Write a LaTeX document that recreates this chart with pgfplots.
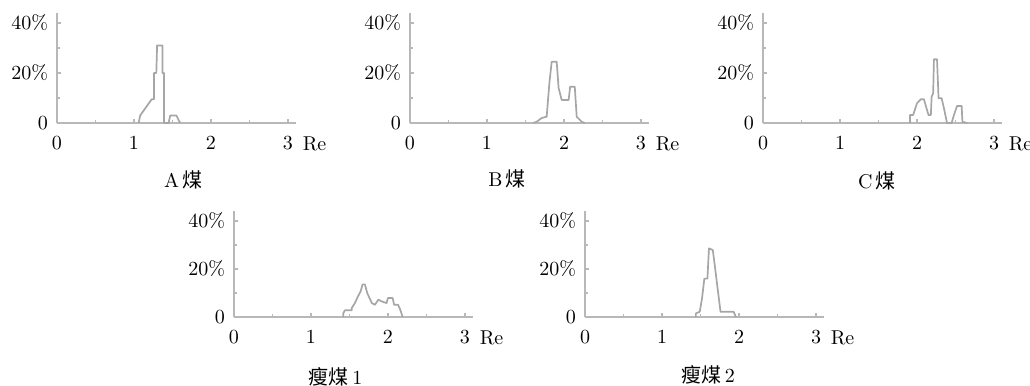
\documentclass[border=0pt]{standalone}
\usepackage{fontspec}
\usepackage{pgfplots}
\pgfplotsset{compat=1.18}
\newfontfamily\cjk{Noto Sans CJK SC}
\definecolor{axisgray}{HTML}{B8B8B8}
\definecolor{curvegray}{HTML}{A6A6A6}
\pgfplotsset{panel/.style={
  x=38.5pt, y=1.25pt, xmin=0, xmax=3.1, ymin=0, ymax=44,
  axis lines=left, axis line style={-, draw=axisgray, line width=1pt},
  xtick={0,1,2,3}, ytick={0,20,40}, yticklabels={0,20\%,40\%},
  minor ytick={10,30}, minor xtick={0.5,1.5,2.5},
  tick style={draw=axisgray, line width=0.6pt},
  major tick length=2pt, minor tick length=1.5pt, tick align=inside,
  xticklabel style={yshift=-3.5pt}, yticklabel style={xshift=-1pt},
  clip=false, anchor=south west,
},
curve/.style={draw=curvegray, line width=0.85pt, mark=none, line join=round}}
\begin{document}
\begin{tikzpicture}
\useasboundingbox (0,0) rectangle (515pt,-193pt);
% A
\begin{axis}[panel, at={(28.5pt,-61.5pt)}]
\addplot[curve] coordinates {(1.06,0)(1.08,3)(1.23,9.5)(1.26,9.5)(1.26,20)(1.29,20)(1.30,31)(1.37,31)(1.37,20)(1.39,20)(1.39,0)(1.45,0)(1.47,3)(1.55,3)(1.60,0)};
\node[anchor=north west] at (axis cs:3.1,0) [yshift=-3.5pt] {Re};
\node at (axis cs:1.64,0) [yshift=-28.5pt] {A\,{\cjk 煤}};
\end{axis}
% B
\begin{axis}[panel, at={(205pt,-61.5pt)}]
\addplot[curve] coordinates {(1.6,0)(1.645,0.5)(1.71,2)(1.775,2.5)(1.81,15.9)(1.84,24.5)(1.905,24.5)(1.93,14)(1.97,9.2)(2.06,9.2)(2.08,14.5)(2.14,14.5)(2.165,2.5)(2.23,0.5)(2.27,0)};
\node[anchor=north west] at (axis cs:3.1,0) [yshift=-3.5pt] {Re};
\node at (axis cs:1.26,0) [yshift=-28pt] {B\,{\cjk 煤}};
\end{axis}
% C
\begin{axis}[panel, at={(381.5pt,-61.5pt)}]
\addplot[curve] coordinates {(1.91,0)(1.91,3.2)(1.95,3.2)(2.0,7.9)(2.05,9.5)(2.09,9.5)(2.13,5.2)(2.15,3.2)(2.18,3.2)(2.19,10.5)(2.21,11.9)(2.22,25.5)(2.26,25.5)(2.28,9.9)(2.32,9.9)(2.35,5.9)(2.39,0)(2.45,0)(2.48,3.2)(2.52,6.8)(2.58,6.8)(2.59,0.5)(2.65,0)};
\node[anchor=north west] at (axis cs:3.1,0) [yshift=-3.5pt] {Re};
\node at (axis cs:1.48,0) [yshift=-29pt] {C\,{\cjk 煤}};
\end{axis}
% 瘦煤1
\begin{axis}[panel, y=1.2pt, at={(117pt,-158.5pt)}]
\addplot[curve] coordinates {(1.42,0)(1.42,1.6)(1.44,2.8)(1.53,2.8)(1.53,3.8)(1.57,5.8)(1.61,8.6)(1.645,10.7)(1.67,13.6)(1.70,13.6)(1.73,10)(1.79,5.8)(1.83,5.1)(1.875,7.2)(1.92,6.5)(1.98,5.8)(2.0,7.9)(2.06,7.9)(2.08,5.1)(2.13,5.1)(2.16,3)(2.19,0)};
\node[anchor=north west] at (axis cs:3.1,0) [yshift=-3.5pt] {Re};
\node at (axis cs:1.32,0) [yshift=-30pt] {{\cjk 瘦煤}\,1};
\end{axis}
% 瘦煤2
\begin{axis}[panel, y=1.2pt, at={(292.5pt,-158.5pt)}]
\addplot[curve] coordinates {(1.44,0)(1.44,1.5)(1.49,2.2)(1.52,7.8)(1.55,16)(1.59,16)(1.61,28.6)(1.66,27.9)(1.69,20.3)(1.73,9.9)(1.76,2.2)(1.93,2.2)(1.96,0)};
\node[anchor=north west] at (axis cs:3.1,0) [yshift=-3.5pt] {Re};
\node at (axis cs:1.6,0) [yshift=-29pt] {{\cjk 瘦煤}\,2};
\end{axis}
\end{tikzpicture}
\end{document}
